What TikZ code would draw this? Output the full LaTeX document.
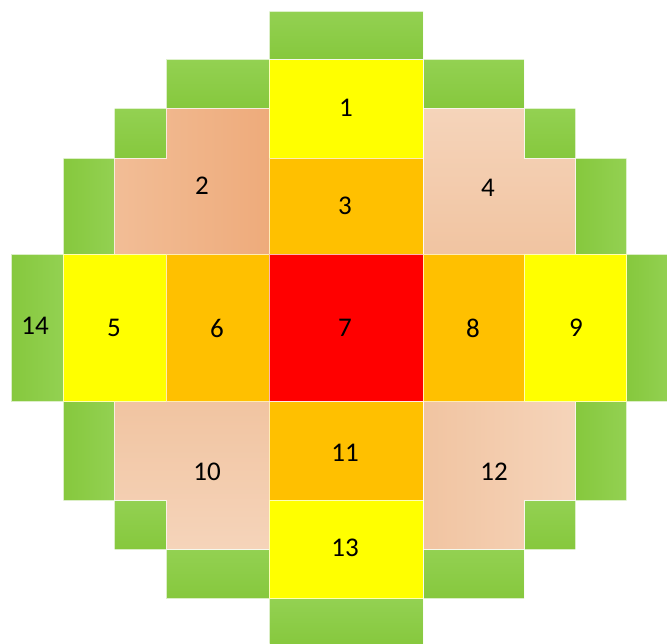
\documentclass[tikz,border=0pt]{standalone}
\usepackage{fontspec}
\setmainfont{Carlito}
\definecolor{gLight}{HTML}{93D152}
\definecolor{gDark}{HTML}{86C83D}
\definecolor{cYel}{HTML}{FFFF00}
\definecolor{cOra}{HTML}{FFC000}
\definecolor{cRed}{HTML}{FF0000}
\definecolor{pA}{HTML}{F2BD96}
\definecolor{pB}{HTML}{EEAB7B}
\definecolor{pL}{HTML}{F5D4BA}
\definecolor{pM}{HTML}{F1C4A1}
\begin{document}
\begin{tikzpicture}[x=1pt,y=-1pt,
  sep/.style={draw=white,draw opacity=0.7,line width=0.7pt},
  gh/.style={sep,top color=gLight,bottom color=gDark},
  gv/.style={sep,left color=gDark,right color=gLight},
  lbl/.style={font=\fontsize{27}{30}\selectfont,text=black,inner sep=0pt}]
\clip (0,0) rectangle (667,643);
\fill[white] (0,0) rectangle (667,643);
% greens horizontal
\shade[gh] (269.3,11) rectangle (423,59.5);
\shade[gh] (166,59.5) rectangle (269.3,108.3);
\shade[gh] (423,59.5) rectangle (524,108.3);
\shade[gh] (114.7,108.3) rectangle (166,158.3);
\shade[gh] (524,108.3) rectangle (575.3,158.3);
\shade[gh] (114.7,500) rectangle (166,549);
\shade[gh] (524,500) rectangle (575.3,549);
\shade[gh] (166,549) rectangle (269.3,598.7);
\shade[gh] (423,549) rectangle (524,598.7);
\shade[gh] (269.3,598.7) rectangle (423,646);
% greens vertical
\shade[gv] (63.3,158.3) rectangle (114.7,254);
\shade[gv] (575.3,158.3) rectangle (626.7,254);
\shade[gv] (11,254) rectangle (63.3,401.7);
\shade[gv] (626.7,254) rectangle (670,401.7);
\shade[gv] (63.3,401.7) rectangle (114.7,500);
\shade[gv] (575.3,401.7) rectangle (626.7,500);
% peach regions
\shade[sep,left color=pA,right color=pB] (166,108.3) -- (269.3,108.3) -- (269.3,254) -- (114.7,254) -- (114.7,158.3) -- (166,158.3) -- cycle;
\shade[sep,top color=pL,bottom color=pM] (423,108.3) -- (524,108.3) -- (524,158.3) -- (575.3,158.3) -- (575.3,254) -- (423,254) -- cycle;
\shade[sep,top color=pM,bottom color=pL] (114.7,401.7) -- (269.3,401.7) -- (269.3,549) -- (166,549) -- (166,500) -- (114.7,500) -- cycle;
\shade[sep,left color=pM,right color=pL] (423,401.7) -- (575.3,401.7) -- (575.3,500) -- (524,500) -- (524,549) -- (423,549) -- cycle;
% solid cells
\filldraw[sep,fill=cYel] (269.3,59.5) rectangle (423,158.3);
\filldraw[sep,fill=cOra] (269.3,158.3) rectangle (423,254);
\filldraw[sep,fill=cYel] (63.3,254) rectangle (166,401.7);
\filldraw[sep,fill=cOra] (166,254) rectangle (269.3,401.7);
\filldraw[sep,fill=cRed] (269.3,254) rectangle (423,401.7);
\filldraw[sep,fill=cOra] (423,254) rectangle (524,401.7);
\filldraw[sep,fill=cYel] (524,254) rectangle (626.7,401.7);
\filldraw[sep,fill=cOra] (269.3,401.7) rectangle (423,500);
\filldraw[sep,fill=cYel] (269.3,500) rectangle (423,598.7);
% labels
\node[lbl] (n1) at (346,108) {1};
\node[lbl] (n2) at (202,186) {2};
\node[lbl] (n3) at (345,206) {3};
\node[lbl] (n4) at (488,188) {4};
\node[lbl] (n5) at (114,328) {5};
\node[lbl] (n6) at (217,328) {6};
\node[lbl] (n7) at (345,328) {7};
\node[lbl] (n8) at (473,328) {8};
\node[lbl] (n9) at (576,328) {9};
\node[lbl] (n10) at (207,472) {10};
\node[lbl] (n11) at (345,453) {11};
\node[lbl] (n12) at (494,472) {12};
\node[lbl] (n13) at (345,548) {13};
\node[lbl] (n14) at (35,326) {14};
\end{tikzpicture}
\end{document}
